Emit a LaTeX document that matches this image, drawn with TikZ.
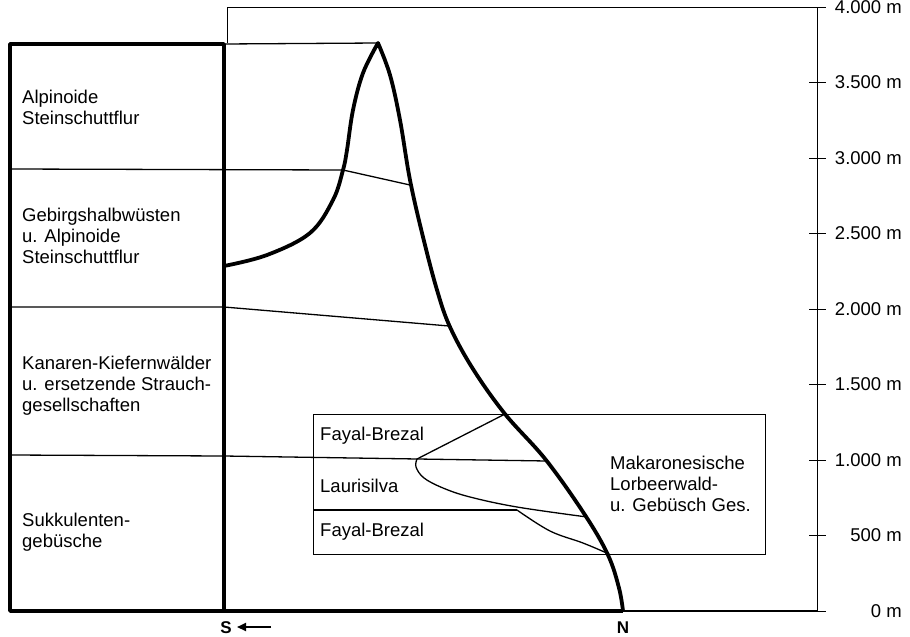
\documentclass[tikz,border=0pt]{standalone}
\usepackage{fontspec}
\setmainfont{Liberation Sans}
\usetikzlibrary{arrows.meta}
\begin{document}
\begin{tikzpicture}[x=1pt,y=-1pt,
  heavy/.style={line width=3.8pt,line join=round},
  fine/.style={line width=1.3pt},
  axisln/.style={line width=1pt},
  lbl/.style={font=\fontsize{18.5}{21}\selectfont,align=left,anchor=west,inner sep=0pt},
  alt/.style={font=\fontsize{18.5}{21}\selectfont,anchor=east,inner sep=0pt},
  dir/.style={font=\bfseries\fontsize{17}{20}\selectfont,inner sep=0pt}]
\useasboundingbox (0,0) rectangle (910,637);
\fill[white] (0,0) rectangle (910,637);

% key points
\coordinate (tl) at (10,44);
\coordinate (bl) at (10,611);
\coordinate (stop) at (224,44);
\coordinate (sbot) at (224,611);
\coordinate (peak) at (378,43);
\coordinate (nbot) at (623,611);
\coordinate (axtop) at (817,7);
\coordinate (axbot) at (817,611);
\coordinate (frtop) at (227,7);
\coordinate (frbot) at (227,43);

% frame top and axis
\draw[axisln] (frbot) -- (frtop) -- (axtop) -- (axbot);
\draw[fine] (stop) -- (peak);
\draw[fine] (nbot) -- (axbot);

% altitude ticks and labels
\foreach \k/\t in {0/0 m,1/500 m,2/1.000 m,3/1.500 m,4/2.000 m,5/2.500 m,6/3.000 m,7/3.500 m,8/4.000 m}{
  \pgfmathsetmacro{\yy}{611-75.5*\k}
  \coordinate (tk\k) at (809,\yy);
  \coordinate (tke\k) at (826,\yy);
  \draw[axisln] (tk\k) -- (tke\k);
  \node[alt] (al\k) at (902,\yy) {\t};
}

% internal boundaries
\coordinate (a1) at (10,169);
\coordinate (a2) at (343,170);
\coordinate (a3) at (410,185);
\draw[fine] (a1) -- (a2) -- (a3);
\coordinate (b1) at (10,307);
\coordinate (b2) at (224,307);
\coordinate (b3) at (449,326);
\draw[fine] (b1) -- (b2) -- (b3);
\coordinate (c1) at (10,455);
\coordinate (c2) at (224,456);
\coordinate (c3) at (547,461);
\draw[fine] (c1) -- (c2) -- (c3);

% laurel forest box
\node[draw,fine,minimum width=452pt,minimum height=140pt,anchor=north west,inner sep=0pt] (mbox) at (313,414) {};
\coordinate (f1) at (505,414);
\coordinate (f2) at (417,459);
\coordinate (f3) at (587,517);
\coordinate (g1) at (313,510);
\coordinate (g2) at (517,510);
\coordinate (g3) at (609,554);
\draw[fine] (f1) -- (f2) -- plot[smooth,tension=0.6] coordinates {(417,459) (416,467) (424,478) (443,488) (470,497) (517,507) (587,517)};
\draw[fine] (g1) -- (g2);
\draw[fine] plot[smooth,tension=0.6] coordinates {(517,510) (550,531) (583,543) (609,554)};

% left column
\draw[heavy] (sbot) -- (bl) -- (tl) -- (stop) -- (sbot) -- (nbot);

% mountain profile
\draw[heavy] plot[smooth,tension=0.6] coordinates {(224,266) (267,255) (310,233) (333,200) (343,170) (347,150) (353,110) (363,73) (378,43)}
  -- plot[smooth,tension=0.6] coordinates {(378,43) (390,75) (400,120) (410,180) (423,237) (437,290) (450,327) (473,369) (505,414) (546,460) (585,515) (608,555) (619,588) (623,611)};

% labels
\node[lbl] (l1) at (22,107.5) {Alpinoide\\Steinschuttflur};
\node[lbl] (l2) at (22,235.5) {Gebirgshalbwüsten\\u. Alpinoide\\Steinschuttflur};
\node[lbl] (l3) at (22,386) {Kanaren-Kiefernwälder\\u. ersetzende Strauch-\\gesellschaften};
\node[lbl] (l4) at (22,532.5) {Sukkulenten-\\gebüsche};
\node[lbl] (fb1) at (320,436) {Fayal-Brezal};
\node[lbl] (ls) at (320,486) {Laurisilva};
\node[lbl] (fb2) at (320,532) {Fayal-Brezal};
\node[lbl] (mk) at (610,484) {Makaronesische\\Lorbeerwald-\\u. Gebüsch Ges.};

% S / N
\node[dir] (S) at (226,628) {S};
\node[dir] (N) at (623,628) {N};
\coordinate (arrT) at (271,627);
\coordinate (arrH) at (237,627);
\draw[line width=2pt,-{Triangle[length=9pt,width=8pt]}] (arrT) -- (arrH);
\end{tikzpicture}
\end{document}
